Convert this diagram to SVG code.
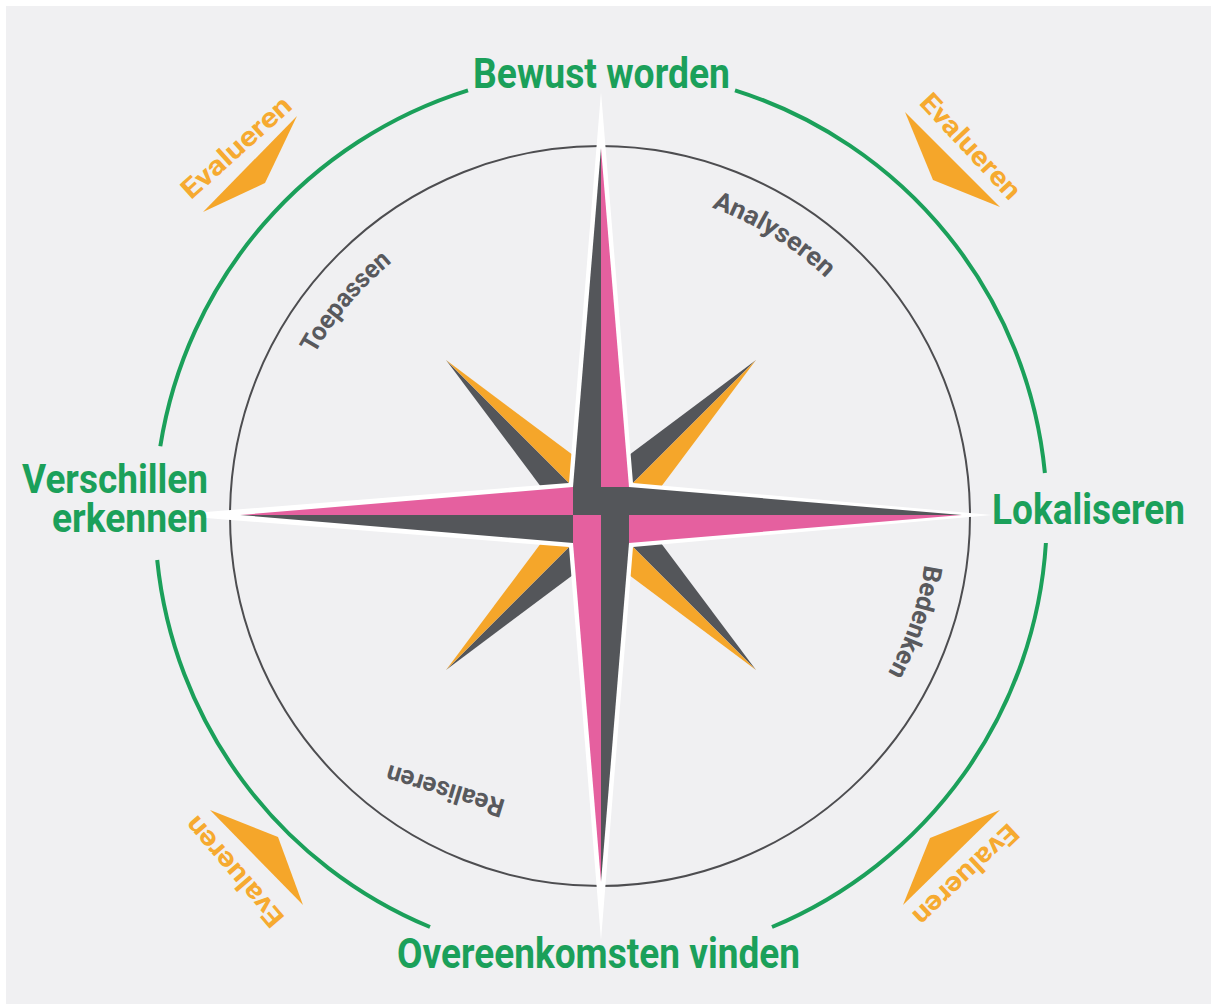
<svg xmlns="http://www.w3.org/2000/svg" width="1211" height="1004" viewBox="0 0 1211 1004">
<defs>
<style>
.bg{fill:#f0f0f2}
.ring{fill:none;stroke:#4d4d50;stroke-width:2}
.green{fill:none;stroke:#1ba05a;stroke-width:4}
.lbl{font-family:Roboto,"Liberation Sans",sans-serif;font-weight:bold;font-size:42px;fill:#1ba05a}
.lbl2{font-family:Roboto,"Liberation Sans",sans-serif;font-weight:bold;font-size:40px;fill:#1ba05a}
.sub{font-family:Roboto,"Liberation Sans",sans-serif;font-weight:bold;font-size:26px;fill:#58595d}
.ev{font-family:Roboto,"Liberation Sans",sans-serif;font-weight:bold;font-size:27px;fill:#f6aa30}
.or{fill:#f5a62a}
.gr{fill:#54565a}
.pk{fill:#e5609f}
.wh{fill:#ffffff}
</style>
<path id="ringpath" d="M600 188 A328 328 0 1 1 600 844 A328 328 0 1 1 600 188"/>
</defs>
<rect x="0" y="0" width="1211" height="1004" fill="#ffffff"/>
<rect class="bg" x="6" y="6" width="1205" height="998"/>

<g id="inner-circle">
<circle class="ring" cx="600" cy="516" r="370"/>
</g>

<g id="outer-ring">
<path class="green" d="M160.3 446.3 A446 446 0 0 1 468 90.3"/>
<path class="green" d="M735 90.3 A446 446 0 0 1 1044.9 473"/>
<path class="green" d="M1045.9 543 A446 446 0 0 1 772 927"/>
<path class="green" d="M430 927 A446 446 0 0 1 157.2 560"/>
</g>

<g id="compass">
<g id="diagonals">
<polygon class="gr" points="756,360 601,476 601,515"/>
<polygon class="or" points="756,360 601,515 640,515"/>
<polygon class="gr" points="756,670 640,515 601,515"/>
<polygon class="or" points="756,670 601,515 601,554"/>
<polygon class="gr" points="446,670 601,554 601,515"/>
<polygon class="or" points="446,670 601,515 562,515"/>
<polygon class="gr" points="446,360 562,515 601,515"/>
<polygon class="or" points="446,360 601,515 601,476"/>
</g>
<polygon class="wh" points="601,92 633,483 992,515 633,547 601,940 569,547 168,515 569,483"/>
<g id="main-star">
<polygon class="gr" points="601,148 573,487 573,515 601,515"/>
<polygon class="pk" points="601,148 601,487 629,487"/>
<polygon class="gr" points="962,515 629,487 601,487 601,515"/>
<polygon class="pk" points="962,515 629,543 629,515"/>
<polygon class="gr" points="601,882 629,543 629,515 601,515"/>
<polygon class="pk" points="601,882 573,543 573,515 601,515"/>
<polygon class="pk" points="240,515 573,487 573,515"/>
<polygon class="gr" points="240,515 573,515 573,543"/>
</g>
</g>

<g id="node-bewust-worden"><text class="lbl" x="601.5" y="88" text-anchor="middle" textLength="257" lengthAdjust="spacingAndGlyphs">Bewust worden</text></g>
<g id="node-lokaliseren"><text class="lbl" x="992" y="524" textLength="193" lengthAdjust="spacingAndGlyphs">Lokaliseren</text></g>
<g id="node-overeenkomsten"><text class="lbl" x="397" y="968" textLength="403" lengthAdjust="spacingAndGlyphs">Overeenkomsten vinden</text></g>
<g id="node-verschillen">
<text class="lbl2" x="22" y="493" textLength="186" lengthAdjust="spacingAndGlyphs">Verschillen</text>
<text class="lbl2" x="52" y="532" textLength="156" lengthAdjust="spacingAndGlyphs">erkennen</text>
</g>

<g id="node-analyseren"><text class="sub"><textPath href="#ringpath" startOffset="114" textLength="135" lengthAdjust="spacingAndGlyphs">Analyseren</textPath></text></g>
<g id="node-bedenken"><text class="sub"><textPath href="#ringpath" startOffset="564" textLength="115" lengthAdjust="spacingAndGlyphs">Bedenken</textPath></text></g>
<g id="node-realiseren"><text class="sub" transform="translate(445,791) rotate(197)" y="9" text-anchor="middle" textLength="122" lengthAdjust="spacingAndGlyphs">Realiseren</text></g>
<g id="node-toepassen"><text class="sub"><textPath href="#ringpath" startOffset="1714" textLength="121" lengthAdjust="spacingAndGlyphs">Toepassen</textPath></text></g>

<g id="evalueren-tl">
<polygon class="or" points="297,116 265,183 203,212"/>
<text class="ev" transform="translate(236,147) rotate(-42)" y="9.5" text-anchor="middle" textLength="138" lengthAdjust="spacingAndGlyphs">Evalueren</text>
</g>
<g id="evalueren-tr">
<polygon class="or" points="905,112 933,180 1000,207"/>
<text class="ev" transform="translate(971,146) rotate(47)" y="9.5" text-anchor="middle" textLength="134" lengthAdjust="spacingAndGlyphs">Evalueren</text>
</g>
<g id="evalueren-bl">
<polygon class="or" points="210,810 278,837 303,905"/>
<text class="ev" transform="translate(234,872) rotate(229.4)" y="9.5" text-anchor="middle" textLength="136" lengthAdjust="spacingAndGlyphs">Evalueren</text>
</g>
<g id="evalueren-br">
<polygon class="or" points="1000,810 930,838 903,905"/>
<text class="ev" transform="translate(966,875) rotate(136.6)" y="9.5" text-anchor="middle" textLength="134" lengthAdjust="spacingAndGlyphs">Evalueren</text>
</g>
</svg>
